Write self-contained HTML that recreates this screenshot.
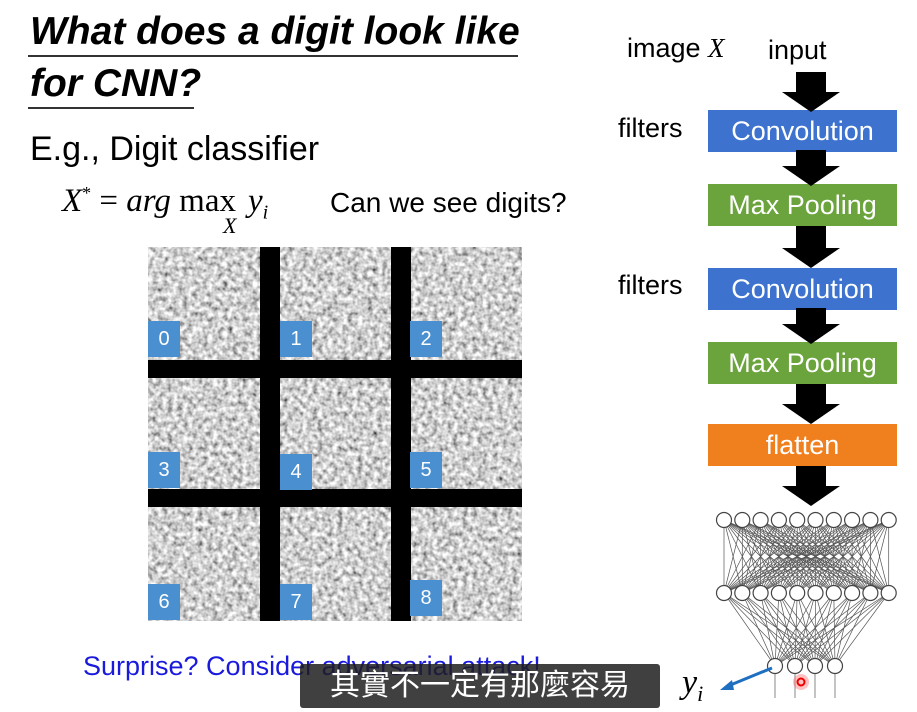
<!DOCTYPE html>
<html><head><meta charset="utf-8"><style>
body{margin:0;width:917px;height:712px;background:#fff;position:relative;overflow:hidden;font-family:"Liberation Sans","Noto Sans CJK TC",sans-serif}
.t{position:absolute;white-space:nowrap}
.box{position:absolute;left:708px;width:189px;height:42px;color:#fff;font-size:27px;text-align:center;line-height:42px}
.lab{position:absolute;width:32px;height:36px;background:#4a90d0;color:#fff;font-size:20px;text-align:center;line-height:36px}
</style></head><body>
<div class="t" style="left:30px;top:8px;font-size:39px;font-weight:bold;font-style:italic;line-height:48px">What does a digit look like</div>
<div style="position:absolute;left:28px;top:55px;width:490px;height:2px;background:#333"></div>
<div class="t" style="left:30px;top:60px;font-size:39px;font-weight:bold;font-style:italic;line-height:48px">for CNN?</div>
<div style="position:absolute;left:28px;top:107px;width:166px;height:2px;background:#333"></div>
<div class="t" style="left:30px;top:130px;font-size:34px">E.g., Digit classifier</div>
<div class="t" style="left:62px;top:183px;font-size:33px;font-family:'Liberation Serif',serif"><i>X</i><sup style="font-size:18px">*</sup> = <i>arg</i> max<span style="display:inline-block;width:12px"></span><i>y<sub style="font-size:20px">i</sub></i></div>
<div class="t" style="left:223px;top:213px;font-size:22px;font-family:'Liberation Serif',serif;font-style:italic">X</div>
<div class="t" style="left:330px;top:187px;font-size:28px">Can we see digits?</div>

<svg style="position:absolute;left:148px;top:247px" width="374" height="374">
<filter id="n"><feTurbulence type="fractalNoise" baseFrequency="0.2" numOctaves="2" seed="3"/><feColorMatrix type="matrix" values="1.5 0 0 0 -0.12  1.5 0 0 0 -0.12  1.5 0 0 0 -0.12  0 0 0 0 1"/></filter>
<rect width="374" height="374" filter="url(#n)" fill="#999"/>
<rect x="112" y="0" width="20" height="374" fill="#000"/>
<rect x="243" y="0" width="20" height="374" fill="#000"/>
<rect x="0" y="113" width="374" height="18" fill="#000"/>
<rect x="0" y="242" width="374" height="18" fill="#000"/>
</svg>
<div class="lab" style="left:148px;top:321px">0</div>
<div class="lab" style="left:280px;top:321px">1</div>
<div class="lab" style="left:410px;top:321px">2</div>
<div class="lab" style="left:148px;top:452px">3</div>
<div class="lab" style="left:280px;top:454px">4</div>
<div class="lab" style="left:410px;top:452px">5</div>
<div class="lab" style="left:148px;top:584px">6</div>
<div class="lab" style="left:280px;top:584px">7</div>
<div class="lab" style="left:410px;top:580px">8</div>

<div class="t" style="left:83px;top:651px;font-size:27px;color:#1a1adc">Surprise? Consider adversarial attack!</div>

<div class="t" style="left:627px;top:33px;font-size:27px">image <i style="font-family:'Liberation Serif',serif">X</i></div>
<div class="t" style="left:768px;top:35px;font-size:27px">input</div>
<div class="t" style="left:618px;top:113px;font-size:27px">filters</div>
<div class="t" style="left:618px;top:270px;font-size:27px">filters</div>
<div class="box" style="top:110px;background:#3d73cf">Convolution</div>
<div class="box" style="top:184px;background:#6ba43c">Max Pooling</div>
<div class="box" style="top:268px;background:#3d73cf">Convolution</div>
<div class="box" style="top:342px;background:#6ba43c">Max Pooling</div>
<div class="box" style="top:424px;background:#f07f1e">flatten</div>
<svg style="position:absolute;left:0;top:0" width="917" height="712" id="s">
<g fill="#000">
<polygon points="796,72 826,72 826,92 840,92 811,112 782,92 796,92"/>
<polygon points="796,150 826,150 826,166 840,166 811,186 782,166 796,166"/>
<polygon points="796,226 826,226 826,248 840,248 811,268 782,248 796,248"/>
<polygon points="796,308 826,308 826,324 840,324 811,344 782,324 796,324"/>
<polygon points="796,384 826,384 826,404 840,404 811,424 782,404 796,404"/>
<polygon points="796,466 826,466 826,486 840,486 811,506 782,486 796,486"/>
</g>
<g id="net" stroke="#555" stroke-width="0.7" fill="none"></g>
<g id="nodes" fill="#fff" stroke="#444" stroke-width="1.2"></g>
<circle cx="801" cy="682" r="8" fill="#f66" opacity="0.4"/>
<circle cx="801" cy="682" r="3.5" fill="none" stroke="#e00" stroke-width="2"/>
<line x1="772" y1="668" x2="728" y2="686" stroke="#1f6fc0" stroke-width="3"/>
<polygon points="720,690 732,680 734,690" fill="#1f6fc0"/>
</svg>
<div class="t" style="left:682px;top:664px;font-size:34px;font-family:'Liberation Serif',serif;font-style:italic">y<sub style="font-size:22px">i</sub></div>
<div class="t" style="left:300px;top:664px;width:360px;height:44px;background:rgba(30,30,30,0.85);color:#fff;font-size:30px;line-height:44px;text-align:center;border-radius:3px">其實不一定有那麼容易</div>
<script>
var ns="http://www.w3.org/2000/svg",net=document.getElementById("net"),nd=document.getElementById("nodes");
var L1=[],L2=[],L3=[];
for(var i=0;i<10;i++){L1.push(724+i*18.3);L2.push(724+i*18.3);}
for(var i=0;i<4;i++)L3.push(775+i*20);
function ln(a,b,c,d){var l=document.createElementNS(ns,"line");l.setAttribute("x1",a);l.setAttribute("y1",b);l.setAttribute("x2",c);l.setAttribute("y2",d);net.appendChild(l);}
function ci(x,y){var c=document.createElementNS(ns,"circle");c.setAttribute("cx",x);c.setAttribute("cy",y);c.setAttribute("r",7.5);nd.appendChild(c);}
L1.forEach(function(a){L2.forEach(function(b){ln(a,520,b,593);});});
L2.forEach(function(a){L3.forEach(function(b){ln(a,593,b,666);});});
L3.forEach(function(a){ln(a,666,a,698);});
L1.forEach(function(a){ci(a,520);});L2.forEach(function(a){ci(a,593);});L3.forEach(function(a){ci(a,666);});
</script>
</body></html>
